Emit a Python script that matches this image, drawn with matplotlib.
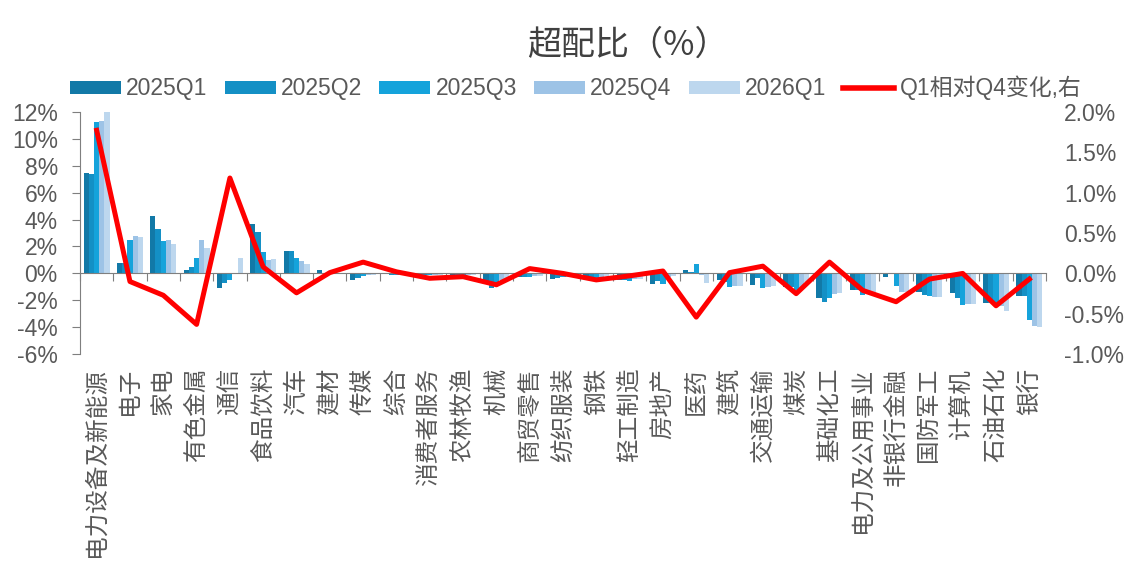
import numpy as np
import matplotlib
matplotlib.use("Agg")
import matplotlib.pyplot as plt
from matplotlib.patches import Patch
from matplotlib.lines import Line2D

plt.rcParams["font.family"] = ["Liberation Sans", "Noto Sans CJK SC"]

# =========================
# Data
# =========================
industries = [
    "电力设备及新能源", "电子", "家电", "有色金属", "通信", "食品饮料", "汽车",
    "建材", "传媒", "综合", "消费者服务", "农林牧渔", "机械", "商贸零售",
    "纺织服装", "钢铁", "轻工制造", "房地产", "医药", "建筑", "交通运输",
    "煤炭", "基础化工", "电力及公用事业", "非银行金融", "国防军工", "计算机",
    "石油石化", "银行",
]

q1_2025 = [7.48, 0.80, 4.24, 0.24, -1.11, 3.68, 1.70, 0.25, -0.50, -0.05,
           -0.10, -0.10, -0.60, -0.30, -0.40, -0.30, -0.50, -0.75, 0.25, -0.50,
           -0.86, -1.00, -1.85, -1.23, -0.30, -1.40, -1.48, -2.20, -1.65]
q2_2025 = [7.40, 0.80, 3.26, 0.50, -0.69, 3.08, 1.70, 0.05, -0.37, -0.10,
           -0.15, -0.10, -1.10, -0.30, -0.35, -0.30, -0.50, -0.55, 0.12, -0.65,
           -0.37, -1.00, -2.15, -1.23, 0.03, -1.60, -1.85, -2.20, -1.70]
q3_2025 = [11.25, 2.50, 2.39, 1.13, -0.50, 1.56, 1.16, 0.00, -0.20, -0.10,
           -0.15, -0.15, -0.85, -0.30, -0.30, -0.35, -0.55, -0.75, 0.69, -1.00,
           -1.10, -1.20, -1.85, -1.60, -0.92, -1.65, -2.35, -2.20, -3.46]
q4_2025 = [11.30, 2.80, 2.47, 2.50, 0.03, 0.99, 0.91, -0.05, -0.10, -0.05,
           -0.10, -0.10, -0.50, -0.20, -0.30, -0.25, -0.45, -0.30, -0.12, -0.95,
           -1.00, -1.10, -1.50, -1.36, -1.36, -1.73, -2.27, -2.40, -3.90]
q1_2026 = [12.00, 2.70, 2.17, 1.90, 1.11, 1.06, 0.69, -0.05, -0.10, -0.05,
           -0.15, -0.10, -0.40, -0.20, -0.25, -0.20, -0.40, -0.20, -0.69, -0.95,
           -0.95, -0.60, -1.45, -1.36, -1.36, -1.73, -2.27, -2.77, -4.00]

# Q1 vs Q4 change (right axis)
change = [1.77, -0.10, -0.27, -0.63, 1.18, 0.08, -0.24, 0.01, 0.14, 0.02,
          -0.06, -0.04, -0.14, 0.06, 0.00, -0.08, -0.03, 0.03, -0.54, 0.01,
          0.09, -0.25, 0.14, -0.21, -0.35, -0.07, 0.00, -0.40, -0.07]

series = [q1_2025, q2_2025, q3_2025, q4_2025, q1_2026]
series_names = ["2025Q1", "2025Q2", "2025Q3", "2025Q4", "2026Q1"]
colors = ["#1279A7", "#1490C5", "#15A3DB", "#9DC3E6", "#BDD7EE"]

# =========================
# Figure
# =========================
fig = plt.figure(figsize=(11.28, 5.74), dpi=100)
ax = fig.add_axes([80 / 1128, 1 - 354.3 / 574, 966 / 1128, 242.6 / 574])

x = np.arange(len(industries))
w = 0.156
for i, (vals, name, c) in enumerate(zip(series, series_names, colors)):
    ax.bar(x + (i - 2) * w, vals, width=w, color=c, label=name, zorder=2)

ax.set_xlim(-0.5, len(industries) - 0.5)
ax.set_ylim(-6, 12)
ax.set_yticks(np.arange(-6, 13, 2))
ax.set_yticklabels([f"{v}%" for v in range(-6, 13, 2)])

gray = "#7F7F7F"
label_color = "#595959"
for s in ["top", "right"]:
    ax.spines[s].set_visible(False)
ax.spines["left"].set_color(gray)
ax.spines["bottom"].set_color(gray)
ax.spines["bottom"].set_position(("data", 0))
ax.spines["bottom"].set_zorder(3)

ax.set_xticks(np.arange(-0.5, len(industries), 1))
ax.set_xticklabels([])
ax.tick_params(axis="x", direction="out", length=6, color=gray)
ax.tick_params(axis="y", direction="out", length=6, color=gray,
               labelsize=16.5, labelcolor=label_color, pad=10)

# category labels, vertical, under the plot area
for xi, name in zip(x, industries):
    ax.text(xi, -0.055, name, transform=ax.get_xaxis_transform(),
            rotation=90, ha="center", va="top", fontsize=17,
            color=label_color, family=["Noto Sans CJK SC"])

# =========================
# Right axis: change line
# =========================
ax2 = ax.twinx()
ax2.plot(x, change, color="#FF0000", linewidth=3.6, label="Q1相对Q4变化,右",
         solid_joinstyle="round", zorder=4)
ax2.set_ylim(-1.0, 2.0)
ax2.set_yticks(np.arange(-1.0, 2.01, 0.5))
ax2.set_yticklabels([f"{v:.1f}%" for v in np.arange(-1.0, 2.01, 0.5)])
for s in ["top", "right", "left", "bottom"]:
    ax2.spines[s].set_visible(False)
ax2.tick_params(axis="y", length=0, labelsize=16.5, labelcolor=label_color, pad=13)

# =========================
# Title and legend
# =========================
fig.text(628 / 1128, 1 - 45 / 574, "超配比（%）", ha="center", va="center",
         fontsize=24.5, color="#404040", family=["Noto Sans CJK SC"])

handles = [Patch(facecolor=c, edgecolor="none") for c in colors]
handles.append(Line2D([0], [0], color="#FF0000", linewidth=4))
labels = series_names + ["Q1相对Q4变化,右"]
leg = fig.legend(handles, labels, loc="center left",
                 bbox_to_anchor=(70 / 1128, 1 - 88 / 574), ncol=6,
                 frameon=False, fontsize=16.5, handlelength=2.23,
                 handleheight=0.5, handletextpad=0.22, columnspacing=0.75,
                 borderpad=0, borderaxespad=0)
for t in leg.get_texts():
    t.set_color(label_color)

fig.savefig("out.png", dpi=100)
